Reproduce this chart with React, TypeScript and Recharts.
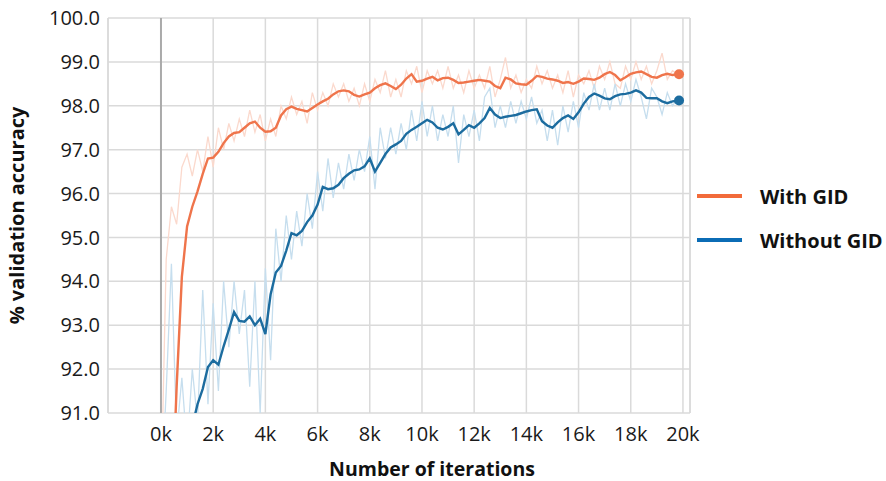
import {
  LineChart,
  Line,
  XAxis,
  YAxis,
  CartesianGrid,
  ReferenceLine,
} from "recharts";

// iterations, in thousands
const iterations = [
  0, 0.2, 0.4, 0.6, 0.8, 1, 1.2, 1.4, 1.6, 1.8, 2, 2.2, 2.4, 2.6, 2.8, 3, 3.2, 3.4, 3.6, 3.8,
  4, 4.2, 4.4, 4.6, 4.8, 5, 5.2, 5.4, 5.6, 5.8, 6, 6.2, 6.4, 6.6, 6.8, 7, 7.2, 7.4, 7.6, 7.8,
  8, 8.2, 8.4, 8.6, 8.8, 9, 9.2, 9.4, 9.6, 9.8, 10, 10.2, 10.4, 10.6, 10.8, 11, 11.2, 11.4, 11.6, 11.8,
  12, 12.2, 12.4, 12.6, 12.8, 13, 13.2, 13.4, 13.6, 13.8, 14, 14.2, 14.4, 14.6, 14.8, 15, 15.2, 15.4, 15.6, 15.8,
  16, 16.2, 16.4, 16.6, 16.8, 17, 17.2, 17.4, 17.6, 17.8, 18, 18.2, 18.4, 18.6, 18.8, 19, 19.2, 19.4, 19.6, 19.85,
];

// smoothed curves
const withGid = [
  85.5, 87.0, 88.5, 91.6, 94.1, 95.25, 95.7, 96.05, 96.45, 96.8, 96.82, 96.95, 97.15, 97.3, 97.38, 97.4, 97.5, 97.6, 97.64, 97.5,
  97.41, 97.42, 97.5, 97.78, 97.92, 97.98, 97.93, 97.9, 97.87, 97.95, 98.03, 98.1, 98.16, 98.26, 98.33, 98.35, 98.33, 98.25, 98.21, 98.26,
  98.3, 98.4, 98.47, 98.51, 98.45, 98.38, 98.48, 98.62, 98.72, 98.55, 98.57, 98.62, 98.66, 98.58, 98.63, 98.64, 98.59, 98.52, 98.53, 98.55,
  98.57, 98.59, 98.57, 98.55, 98.45, 98.4, 98.64, 98.6, 98.51, 98.49, 98.48, 98.57, 98.68, 98.66, 98.62, 98.6, 98.57, 98.52, 98.54, 98.5,
  98.55, 98.62, 98.61, 98.59, 98.64, 98.72, 98.77, 98.7, 98.58, 98.65, 98.73, 98.76, 98.78, 98.72, 98.66, 98.64, 98.7, 98.73, 98.7, 98.72,
];
const withoutGid = [
  84.5, 85.5, 86.5, 87.5, 88.5, 89.6, 90.7, 91.2, 91.55, 92.05, 92.2, 92.1, 92.52, 92.9, 93.3, 93.1, 93.08, 93.2, 93.0, 93.15,
  92.8, 93.7, 94.2, 94.35, 94.7, 95.1, 95.05, 95.15, 95.35, 95.5, 95.75, 96.15, 96.1, 96.12, 96.2, 96.35, 96.45, 96.53, 96.55, 96.62,
  96.8, 96.5, 96.7, 96.9, 97.05, 97.12, 97.2, 97.36, 97.45, 97.52, 97.6, 97.68, 97.62, 97.5, 97.46, 97.52, 97.6, 97.35, 97.45, 97.56,
  97.5, 97.6, 97.72, 97.95, 97.8, 97.72, 97.75, 97.77, 97.79, 97.83, 97.87, 97.9, 97.92, 97.65, 97.55, 97.5, 97.62, 97.72, 97.78, 97.7,
  97.85, 98.05, 98.2, 98.28, 98.23, 98.17, 98.15, 98.22, 98.26, 98.27, 98.3, 98.35, 98.3, 98.18, 98.17, 98.17, 98.1, 98.06, 98.1, 98.12,
];

// raw (unsmoothed) curves
const withGidRaw = [
  89.0, 94.5, 95.7, 95.3, 96.6, 96.9, 96.4, 97.0, 96.5, 97.3, 96.6, 97.5, 97.0, 97.6, 97.2, 97.7, 97.3, 97.9, 97.4, 97.8,
  97.2, 97.7, 97.3, 98.0, 97.7, 98.2, 97.8, 98.1, 97.6, 98.3, 97.9, 98.3, 98.0, 98.5, 98.2, 98.5, 98.1, 98.4, 98.0, 98.5,
  98.1, 98.6, 98.3, 98.8, 98.2, 98.6, 98.2, 98.8, 98.5, 98.9, 98.3, 98.8, 98.5, 98.8, 98.4, 98.9, 98.4, 98.7, 98.3, 98.8,
  98.4, 98.7, 98.4, 98.9, 98.2, 98.6, 99.1, 98.4, 98.7, 98.3, 98.6, 98.4, 98.9, 98.5, 98.8, 98.4, 98.7, 98.3, 98.8, 98.2,
  98.7, 98.5, 98.8, 98.4, 98.9, 98.6, 99.0, 98.5, 98.4, 98.9, 98.6, 99.0, 98.6, 98.9, 98.5, 98.8, 99.2, 98.6, 98.8, 98.7,
];
const withoutGidRaw = [
  89.0, 91.5, 94.4, 90.5, 91.8, 90.2, 92.0, 90.8, 93.8, 91.2, 93.5, 91.5, 94.0, 92.5, 94.0, 92.8, 93.8, 91.6, 94.0, 91.0,
  94.3, 92.2, 95.2, 94.0, 95.5, 94.5, 95.6, 94.8, 96.0, 95.2, 96.5, 95.6, 96.8, 95.9, 96.7, 96.1, 96.9, 96.3, 97.0, 96.5,
  97.3, 96.1, 97.5, 96.8, 97.5, 96.9, 97.6, 97.0, 97.9, 97.2, 98.1, 97.3, 98.0, 97.2, 97.8, 97.3, 98.0, 96.7, 97.8, 97.3,
  97.9, 97.2, 98.2, 98.4, 97.5, 98.0, 97.5, 98.1, 97.6, 98.1, 97.7, 98.2, 97.6, 97.9, 97.2, 97.9, 97.1, 98.0, 97.4, 98.1,
  97.5, 98.3, 97.9, 98.5, 97.9, 98.4, 97.9, 98.5, 98.0, 98.5, 98.1, 98.6, 98.2, 97.7, 98.4, 98.2, 97.8, 98.3, 98.0, 98.2,
];

const xTicks = [0, 2, 4, 6, 8, 10, 12, 14, 16, 18, 20];
const yTicks = [91, 92, 93, 94, 95, 96, 97, 98, 99, 100];

const ORANGE = "#ef744b";
const ORANGE_LIGHT = "#fbd9cd";
const BLUE = "#1c6c9f";
const BLUE_LIGHT = "#c6deee";
const GRID = "#dadada";
const FONT = "'Open Sans', 'Liberation Sans', sans-serif";

const legendItems = [
  { name: "With GID", color: "#f26b3a" },
  { name: "Without GID", color: "#0b6cb5" },
];

const data = iterations.map((k, i) => ({
  k,
  withGid: withGid[i],
  withoutGid: withoutGid[i],
  withGidRaw: withGidRaw[i],
  withoutGidRaw: withoutGidRaw[i],
}));

const X_MIN = -2.03;
const X_MAX = 20.27;

function endDot(color: string) {
  return (props: any) => {
    const { cx, cy, index } = props;
    if (index !== data.length - 1) return <g key={`d${index}`} />;
    return <circle key={`d${index}`} cx={cx} cy={cy} r={5} fill={color} />;
  };
}

export default function App() {
  return (
    <div style={{ position: "absolute", left: 0, top: 0, width: 886, height: 481, background: "#fff" }}>
      <LineChart
        width={886}
        height={481}
        data={data}
        margin={{ top: 18, right: 196, left: 0, bottom: 0 }}
      >
        <CartesianGrid stroke={GRID} strokeWidth={1.5} />
        <ReferenceLine x={X_MIN} stroke={GRID} strokeWidth={1.5} />
        <ReferenceLine x={X_MAX} stroke={GRID} strokeWidth={1.5} />
        <ReferenceLine x={0} stroke="#aaaaaa" strokeWidth={2} />
        <XAxis
          dataKey="k"
          type="number"
          domain={[X_MIN, X_MAX]}
          ticks={xTicks}
          allowDataOverflow
          tickFormatter={(v) => `${v}k`}
          axisLine={false}
          tickLine={false}
          tickMargin={8}
          height={68}
          tick={{ fontSize: 20, fill: "#1a1a1a", fontFamily: FONT }}
          label={{
            value: "Number of iterations",
            position: "insideBottom",
            offset: 5,
            dx: 33,
            style: { fontSize: 19.5, fontWeight: 700, fill: "#111", fontFamily: FONT },
          }}
        />
        <YAxis
          type="number"
          domain={[91, 100]}
          ticks={yTicks}
          allowDataOverflow
          tickFormatter={(v) => v.toFixed(1)}
          axisLine={false}
          tickLine={false}
          width={108}
          tick={{ fontSize: 20, fill: "#1a1a1a", fontFamily: FONT }}
          label={{
            value: "% validation accuracy",
            angle: -90,
            position: "insideLeft",
            offset: 17,
            style: { textAnchor: "middle", fontSize: 20, fontWeight: 700, fill: "#111", fontFamily: FONT },
          }}
        />
        <Line
          dataKey="withGidRaw"
          stroke={ORANGE_LIGHT}
          strokeWidth={1.3}
          dot={false}
          activeDot={false}
          isAnimationActive={false}
        />
        <Line
          dataKey="withoutGidRaw"
          stroke={BLUE_LIGHT}
          strokeWidth={1.3}
          dot={false}
          activeDot={false}
          isAnimationActive={false}
        />
        <Line
          dataKey="withGid"
          stroke={ORANGE}
          strokeWidth={2.4}
          dot={endDot(ORANGE)}
          activeDot={false}
          isAnimationActive={false}
        />
        <Line
          dataKey="withoutGid"
          stroke={BLUE}
          strokeWidth={2.4}
          dot={endDot(BLUE)}
          activeDot={false}
          isAnimationActive={false}
        />
      </LineChart>
      <div style={{ position: "absolute", left: 697, top: 174, fontFamily: FONT }}>
        {legendItems.map((it) => (
          <div key={it.name} style={{ display: "flex", alignItems: "center", height: 44 }}>
            <div style={{ width: 45, height: 4, background: it.color, marginRight: 18 }} />
            <span style={{ fontSize: 20, fontWeight: 700, color: "#111" }}>{it.name}</span>
          </div>
        ))}
      </div>
    </div>
  );
}
